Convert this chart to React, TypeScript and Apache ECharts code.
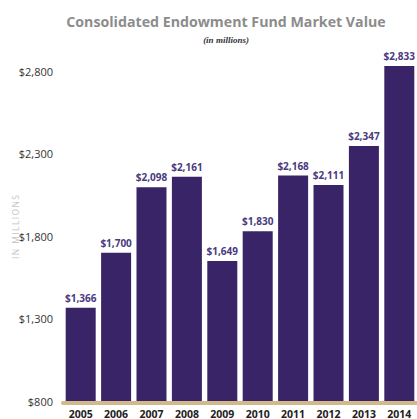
import React, { useEffect, useRef } from "react";
import * as echarts from "echarts";

const years = ["2005", "2006", "2007", "2008", "2009", "2010", "2011", "2012", "2013", "2014"];
const values = [1366, 1700, 2098, 2161, 1649, 1830, 2168, 2111, 2347, 2833];
const yTicks = [800, 1300, 1800, 2300, 2800];

const fmt = (v: number) => "$" + v.toLocaleString("en-US");

export default function App() {
  const ref = useRef<HTMLDivElement>(null);
  useEffect(() => {
    if (!ref.current) return;
    const chart = echarts.init(ref.current, null, { renderer: "svg" });
    chart.setOption({
      animation: false,
      title: [
        {
          text: "Consolidated Endowment Fund Market Value",
          left: 221,
          top: 9,
          textAlign: "center",
          textStyle: { fontFamily: "Open Sans", fontWeight: "bold", fontSize: 14.2, color: "#8c8c8c" },
        },
        {
          text: "(in millions)",
          left: 221,
          top: 30,
          textAlign: "center",
          textStyle: { fontFamily: "Liberation Serif", fontStyle: "italic", fontWeight: "bold", fontSize: 9, color: "#333" },
        },
      ],
      graphic: [
        {
          type: "text",
          x: 15,
          y: 227,
          rotation: Math.PI / 2,
          style: {
            text: "I\u2009N\u2009 \u2009M\u2009I\u2009L\u2009L\u2009I\u2009O\u2009N\u2009S",
            fill: "#c4c4c4",
            font: "8.5px 'Open Sans'",
            align: "center",
            verticalAlign: "middle",
          },
        },
      ],
      grid: { left: 63, right: -3, top: 55, bottom: 18, containLabel: false },
      xAxis: {
        type: "category",
        data: years,
        offset: 2,
        axisLine: { show: true, lineStyle: { color: "#d2b98a", width: 4 } },
        axisTick: { show: false },
        axisLabel: { fontFamily: "Open Sans", fontWeight: "bold", fontSize: 10.5, color: "#222", margin: 5 },
      },
      yAxis: {
        type: "value",
        min: yTicks[0],
        max: 2900,
        interval: 500,
        axisLine: { show: false },
        axisTick: { show: false },
        splitLine: { show: false },
        axisLabel: {
          showMaxLabel: false,
          fontFamily: "Open Sans",
          fontSize: 11,
          color: "#333",
          margin: 10,
          formatter: (v: number) => (yTicks.includes(v) ? fmt(v) : ""),
        },
      },
      series: [
        {
          type: "bar",
          data: values,
          barWidth: 30,
          itemStyle: { color: "#3a2468" },
          label: {
            show: true,
            position: "top",
            distance: 5,
            formatter: (p: any) => fmt(p.value),
            fontFamily: "Open Sans",
            fontWeight: "bold",
            fontSize: 10,
            color: "#4a3a80",
          },
        },
      ],
    });
    return () => chart.dispose();
  }, []);
  return <div ref={ref} style={{ width: 417, height: 419, position: "absolute", left: 0, top: 0 }} />;
}
